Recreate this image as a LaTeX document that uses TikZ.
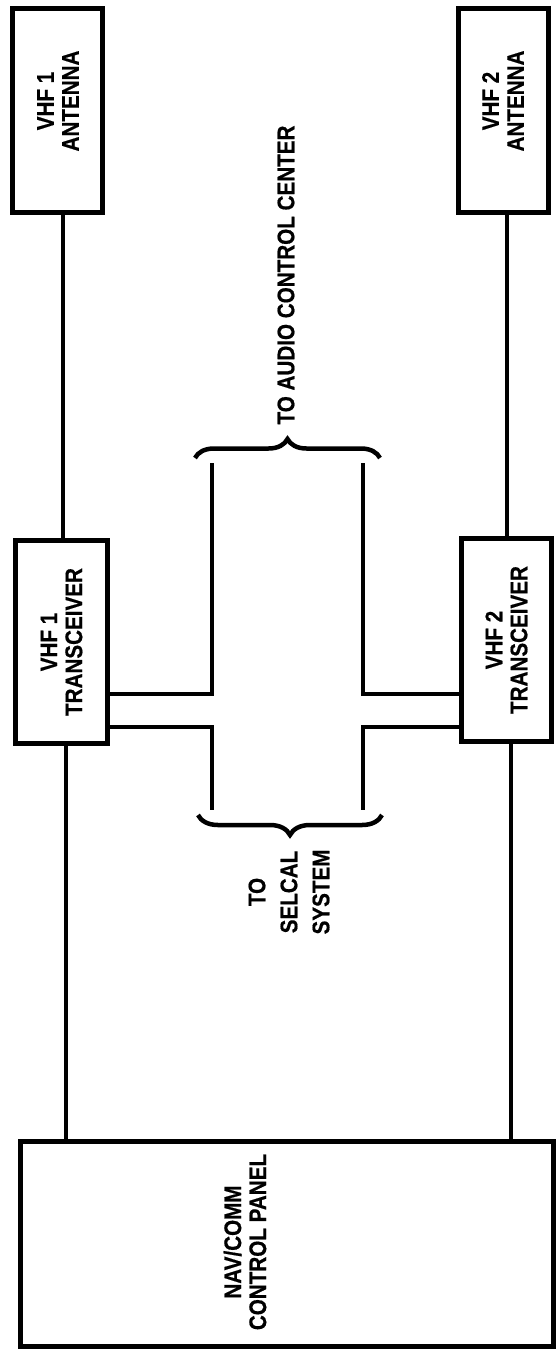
\documentclass[tikz,border=0pt]{standalone}
\usepackage{fontspec}
\setmainfont{Liberation Sans}
\newfontfamily\condfont[FakeStretch=0.86,FakeBold=0.6]{Liberation Sans Bold}
\usetikzlibrary{decorations.pathreplacing}
\begin{document}
\begin{tikzpicture}[x=1pt,y=-1pt,
  box/.style={draw=black,line width=5pt,fill=none,inner sep=0pt},
  lbl/.style={rotate=90,align=center,inner sep=0pt,font=\condfont\fontsize{24}{25}\selectfont},
  lblwide/.style={rotate=90,align=center,inner sep=0pt,font=\condfont\fontsize{24}{32}\selectfont},
  conn/.style={draw=black,line width=3.5pt},
  bracestyle/.style={draw=black,line width=4.5pt,decorate,decoration={brace,amplitude=19pt}},
  bracemirror/.style={draw=black,line width=4.5pt,decorate,decoration={brace,mirror,amplitude=20pt}}]
\useasboundingbox[fill=white] (0,0) rectangle (556,1352);
% boxes
\node[box,minimum width=90pt,minimum height=204pt] (ant1) at (57.5,110) {};
\node[box,minimum width=90pt,minimum height=204pt] (ant2) at (503,110) {};
\node[box,minimum width=92pt,minimum height=203pt] (tr1) at (61.5,642) {};
\node[box,minimum width=90pt,minimum height=203pt] (tr2) at (506.5,640) {};
\node[box,minimum width=533pt,minimum height=205pt] (panel) at (286.5,1244) {};
% texts
\node[lbl] (ant1t) at (58,101) {VHF 1\\ANTENNA};
\node[lbl] (ant2t) at (503,101) {VHF 2\\ANTENNA};
\node[lbl] (tr1t) at (tr1.center) {VHF 1\\TRANSCEIVER};
\node[lbl] (tr2t) at (tr2.center) {VHF 2\\TRANSCEIVER};
\node[lbl] (panelt) at (245,1242) {NAV/COMM\\CONTROL PANEL};
\node[lbl] (audio) at (286,275) {TO AUDIO CONTROL CENTER};
\node[lblwide] (selcal) at (289,892) {TO\\SELCAL\\SYSTEM};
% reference coordinates
\coordinate (xl1) at (63,0);
\coordinate (xr1) at (507,0);
\coordinate (xl2) at (66,0);
\coordinate (xr2) at (511,0);
\coordinate (yu) at (0,694);
\coordinate (yd) at (0,727);
\coordinate (bu1) at (212,463);
\coordinate (bd1) at (212,810);
\coordinate (bu2) at (363,463);
\coordinate (bd2) at (363,810);
\coordinate (ubl) at (195,458);
\coordinate (ubr) at (380,458);
\coordinate (dbl) at (198,815);
\coordinate (dbr) at (382,815);
% vertical connectors
\draw[conn] (ant1.south -| xl1) -- (tr1.north -| xl1);
\draw[conn] (ant2.south -| xr1) -- (tr2.north -| xr1);
\draw[conn] (tr1.south -| xl2) -- (panel.north -| xl2);
\draw[conn] (tr2.south -| xr2) -- (panel.north -| xr2);
% branches
\draw[conn] (tr1.east |- yu) -| (bu1);
\draw[conn] (tr1.east |- yd) -| (bd1);
\draw[conn] (tr2.west |- yu) -| (bu2);
\draw[conn] (tr2.west |- yd) -| (bd2);
% braces
\draw[bracestyle] (ubl) -- (ubr);
\draw[bracemirror] (dbl) -- (dbr);
\end{tikzpicture}
\end{document}
